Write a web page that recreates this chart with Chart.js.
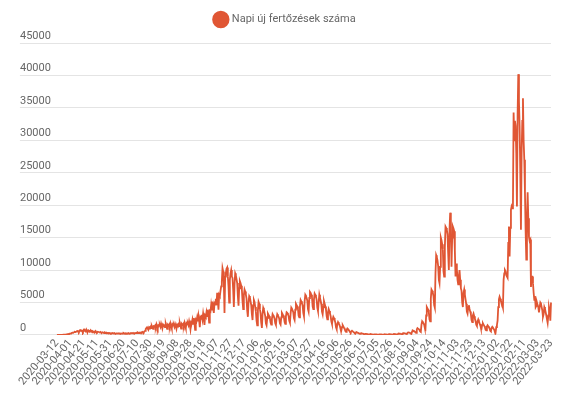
<!DOCTYPE html>
<html>
<head>
<meta charset="utf-8">
<script src="https://cdn.jsdelivr.net/npm/chart.js@4.4.1/dist/chart.umd.min.js"></script>
<style>
html,body{margin:0;padding:0;background:#fff;}
canvas{display:block;}
</style>
</head>
<body>
<canvas id="c" width="575" height="395"></canvas>
<script>
// ---- data ----
const seriesLabel = 'Napi új fertőzések száma';
const startDate = '2020-03-12';
const skippedDate = '2021-07-15';
const tickEvery = 20;
const yTicks = [0, 5000, 10000, 15000, 20000, 25000, 30000, 35000, 40000, 45000];

const cases = [
  2,3,5,7,9,11,15,
  17,19,29,36,45,53,64,
  80,92,117,136,167,187,201,
  225,300,345,390,410,440,490,
  480,520,590,610,560,480,700,
  640,720,680,520,440,760,650,
  700,580,820,560,470,720,610,
  640,530,690,600,420,560,500,
  520,470,600,430,380,500,460,
  450,400,480,380,330,420,370,
  350,300,380,320,260,330,290,
  300,260,310,240,210,280,250,
  260,230,290,220,190,250,240,
  230,210,270,200,180,240,220,
  240,220,280,210,190,250,230,
  250,230,300,220,200,270,260,
  280,250,330,240,230,300,290,
  320,290,380,300,270,360,340,
  400,360,480,420,380,560,620,
  900,1050,1180,980,850,1200,1100,
  1250,1050,1400,1150,950,1350,1300,
  1450,1200,1650,1300,1000,1500,1400,
  1550,1250,1750,1350,1050,1600,1450,
  1500,1200,1700,1300,950,1550,1400,
  1600,1300,1800,1400,1000,1650,1500,
  1550,1250,1700,1350,950,1600,1450,
  1650,1350,1850,1400,1000,1700,1550,
  1700,1400,1900,1450,1050,1800,1650,
  1800,1500,2100,1600,900,2000,1900,
  2400,1700,2600,1900,800,2300,2100,
  2700,2100,3000,2300,1200,2700,2500,
  3100,2400,3300,2600,1550,3000,2800,
  3500,2900,3900,3100,1900,3700,3600,
  4600,3800,5150,4100,3400,4900,4700,
  5600,4600,6500,5200,3900,6200,6000,
  6800,7500,8200,10300,9800,8000,3400,
  9000,9500,10200,10400,9000,7500,5000,
  8500,9500,10000,9000,8800,7000,4300,
  7800,9500,9200,8600,8000,6000,4500,
  7200,8300,8000,7600,7000,5200,4000,
  6200,7000,6700,6200,5600,3800,2800,
  5000,6000,5800,5200,4600,3200,2300,
  4600,5400,5100,4300,3600,2200,1500,
  3800,5100,4800,4000,3300,1900,1100,
  3300,4200,3900,3400,2900,1800,1500,
  2600,3300,3100,2900,2600,1900,1600,
  2500,3200,3000,2800,2500,1800,1550,
  2600,3200,3000,2800,2500,1800,1600,
  2700,3400,3200,3000,2700,2000,1700,
  2900,3500,3400,3200,2900,2200,1900,
  3300,4200,4000,3800,3500,2600,2300,
  3900,4800,4600,4400,4000,3000,2700,
  4400,5400,5200,4900,4500,3400,2900,
  5200,6200,6000,5700,5300,4000,3600,
  5700,6650,6500,6200,5800,4400,4000,
  5500,6400,6200,5900,5400,4200,3700,
  5000,6200,5700,5300,4800,3600,3200,
  4300,5200,4800,4400,3900,2900,2400,
  3500,4000,3700,3300,2900,2100,1700,
  2400,2800,2600,2300,1900,1200,900,
  1700,2000,1800,1600,1300,850,700,
  1200,1500,1300,1100,900,600,480,
  800,1000,900,760,620,420,350,
  550,650,560,480,400,280,230,
  380,420,370,320,260,190,160,
  250,280,240,210,170,120,100,
  170,180,150,130,110,80,70,
  120,130,110,100,90,60,50,
  90,100,90,80,70,50,40,
  80,90,80,70,60,40,40,
  80,100,90,80,70,50,45,
  100,120,110,100,90,60,55,
  130,160,140,130,110,80,70,
  180,220,200,190,170,120,100,
  240,290,270,250,220,160,140,
  330,400,380,350,310,220,190,
  550,700,650,600,530,380,330,
  850,1050,980,900,800,560,480,
  1600,2100,1950,1800,1600,1100,950,
  3000,4300,4100,3900,3500,2400,2100,
  5600,7000,6800,6500,6000,4600,4200,
  9500,12300,12000,11500,10600,8500,8000,
  10500,15000,14600,14000,13200,9800,9000,
  13500,16700,16500,16200,15500,12600,10000,
  16200,18850,17500,10500,15000,16700,16400,
  16000,13000,9000,11000,10200,8500,7800,
  9000,10000,8500,7200,6800,5000,4300,
  6500,7000,6200,5500,4800,3600,3300,
  4300,4600,4000,3600,3200,2300,2000,
  3000,3300,2900,2500,2200,1600,1400,
  2100,2400,2100,1800,1600,1100,1000,
  1600,1800,1600,1400,1200,800,700,
  1300,1500,1350,1200,1000,650,550,
  1100,1250,1100,950,800,450,350,
  1200,1500,2200,4300,5500,5900,5600,
  5200,5000,4600,4200,8500,9500,10000,
  9800,9200,9000,8800,14200,16700,12100,
  16500,19300,19800,19500,20000,34300,30000,
  33000,32200,28000,19800,34000,40200,36000,
  32200,25000,16200,28000,33000,36500,30000,
  27000,22000,16000,11600,18000,22000,18000,
  15100,14500,14700,7400,9000,9000,8000,
  6500,5400,6000,4300,4500,5000,4600,
  4300,3500,4300,5000,4800,4300,3800,
  2800,3200,4300,4000,3500,3000,2400,
  1850,3000,4300,3800,2200,5000
];

// daily date categories (one day missing from the source in July 2021)
const dates = [];
{
  const [y0, m0, d0] = startDate.split('-').map(Number);
  const d = new Date(Date.UTC(y0, m0 - 1, d0));
  while (dates.length < cases.length) {
    const s = d.toISOString().slice(0, 10);
    if (s !== skippedDate) dates.push(s);
    d.setUTCDate(d.getUTCDate() + 1);
  }
}

// ---- chart ----
Chart.defaults.font.family = 'Roboto';
Chart.defaults.font.size = 11;
Chart.defaults.color = '#666';

const legendSpacer = {
  id: 'legendSpacer',
  beforeInit(chart) {
    const origFit = chart.legend.fit;
    chart.legend.fit = function () {
      origFit.call(this);
      this.height += 8;
    };
  }
};

const lineColor = '#e05634';

new Chart(document.getElementById('c'), {
  type: 'line',
  data: {
    labels: dates,
    datasets: [{
      label: seriesLabel,
      data: cases,
      borderColor: lineColor,
      backgroundColor: lineColor,
      borderWidth: 1.8,
      pointRadius: 0,
      pointHoverRadius: 0,
      tension: 0,
      fill: false
    }]
  },
  options: {
    responsive: false,
    animation: false,
    layout: { padding: { left: 20, right: 24, top: 4, bottom: 5 } },
    plugins: {
      legend: {
        labels: { usePointStyle: true, pointStyle: 'circle', color: '#666' }
      },
      tooltip: { enabled: false }
    },
    scales: {
      x: {
        grid: { display: false, drawTicks: false },
        border: { display: false },
        ticks: {
          autoSkip: false,
          maxRotation: 50,
          minRotation: 50,
          padding: 2,
          color: '#666',
          callback: function (v, i) { return i % tickEvery === 0 ? this.getLabelForValue(v) : ''; }
        }
      },
      y: {
        min: 0,
        max: 45000,
        border: { display: false },
        grid: { color: '#e4e4e4', tickLength: 37 },
        afterBuildTicks: axis => { axis.ticks = yTicks.map(v => ({ value: v })); },
        ticks: {
          crossAlign: 'far',
          padding: -15.5,
          labelOffset: -7,
          color: '#666',
          callback: v => String(v)
        }
      }
    }
  },
  plugins: [legendSpacer]
});
</script>
</body>
</html>
